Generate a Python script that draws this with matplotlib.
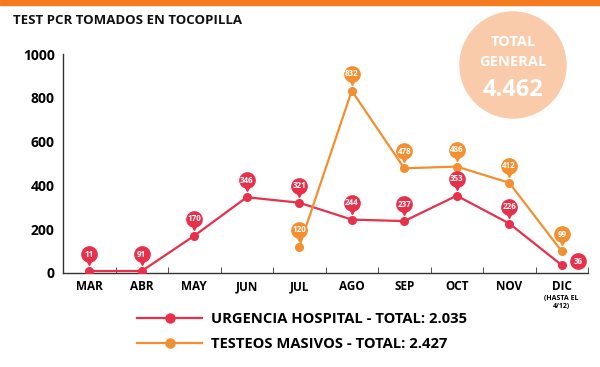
import matplotlib.pyplot as plt
from matplotlib.lines import Line2D
from matplotlib.patches import Ellipse, Rectangle
from matplotlib.transforms import offset_copy

plt.rcParams['font.family'] = ['Open Sans', 'DejaVu Sans']
plt.rcParams['font.weight'] = 'bold'

# ==============================
# DATA
# ==============================
months = ["MAR", "ABR", "MAY", "JUN", "JUL", "AGO", "SEP", "OCT", "NOV", "DIC"]

# urgencia hospital: plotted positions (as drawn) and printed labels
urgencia = [9, 9, 170, 346, 321, 244, 237, 353, 226, 36]
urgencia_labels = ["11", "91", "170", "346", "321", "244", "237", "353", "226", "36"]

# testeos masivos start in JUL
testeos_months = ["JUL", "AGO", "SEP", "OCT", "NOV", "DIC"]
testeos = [120, 832, 478, 486, 412, 99]
testeos_labels = ["120", "832", "478", "486", "412", "99"]

yticks = [0, 200, 400, 600, 800, 1000]

RED = "#E8304B"
ORANGE = "#F29031"
PEACH = "#F9CBAA"
BAR = "#F47B20"

# ==============================
# FIGURE
# ==============================
fig = plt.figure(figsize=(6, 3.67), dpi=100)
ax = fig.add_axes([63 / 600, 1 - 273 / 367, 525 / 600, 219 / 367])

x_all = list(range(len(months)))
x_test = [months.index(m) for m in testeos_months]

ax.plot(x_all, urgencia, color=RED, lw=1.6, marker="o", ms=5.5, zorder=3)
ax.plot(x_test, testeos, color=ORANGE, lw=1.6, marker="o", ms=5.5, zorder=3)


def pin_labels(xs, ys, labels, color, side=None):
    for i, (x, y, lab) in enumerate(zip(xs, ys, labels)):
        if side is not None and i == side:
            tr = offset_copy(ax.transData, fig=fig, x=16, y=4, units="dots")
            ax.plot(x, y, "o", ms=11, color=color, transform=tr, zorder=5, clip_on=False)
            ax.text(x, y, lab, transform=tr, color="white", fontsize=5.8,
                    ha="center", va="center", zorder=6)
            continue
        tr_c = offset_copy(ax.transData, fig=fig, x=0, y=17, units="dots")
        tr_t = offset_copy(ax.transData, fig=fig, x=0, y=9, units="dots")
        ax.plot(x, y, "v", ms=5, color=color, transform=tr_t, zorder=4, clip_on=False)
        ax.plot(x, y, "o", ms=11, color=color, transform=tr_c, zorder=5, clip_on=False)
        ax.text(x, y, lab, transform=tr_c, color="white", fontsize=5.8,
                ha="center", va="center", zorder=6)


pin_labels(x_all, urgencia, urgencia_labels, RED, side=len(months) - 1)
pin_labels(x_test, testeos, testeos_labels, ORANGE)

ax.set_xlim(-0.5, len(months) - 0.5)
ax.set_ylim(0, 1000)
ax.set_yticks(yticks)
ax.set_xticks(x_all)
ax.set_xticklabels(months)
ax.set_xticks([i + 0.5 for i in range(-1, len(months))], minor=True)
ax.tick_params(axis="x", which="major", length=0, pad=5, labelsize=8.5)
ax.tick_params(axis="x", which="minor", direction="in", length=4, color="#333333")
ax.tick_params(axis="y", length=0, pad=6, labelsize=10)
for s in ["top", "right"]:
    ax.spines[s].set_visible(False)
for s in ["left", "bottom"]:
    ax.spines[s].set_color("#333333")
    ax.spines[s].set_linewidth(1.0)

ax.text(len(months) - 1, -0.10, "(HASTA EL\n4/12)", transform=ax.get_xaxis_transform(),
        ha="center", va="top", fontsize=5, linespacing=1.3)

# title and top bar
fig.patches.append(Rectangle((0, 1 - 5 / 367), 1, 5 / 367, transform=fig.transFigure,
                             color=BAR, zorder=0))
fig.text(13 / 600, 1 - 20 / 367, "TEST PCR TOMADOS EN TOCOPILLA", fontsize=9.5,
         ha="left", va="center", color="#111111")

# total bubble
fig.patches.append(Ellipse((513 / 600, 1 - 65 / 367), 106 / 600, 106 / 367,
                           transform=fig.transFigure, color=PEACH, zorder=0))
fig.text(513 / 600, 1 - 42 / 367, "TOTAL", color="white", fontsize=10.5,
         ha="center", va="center")
fig.text(513 / 600, 1 - 62 / 367, "GENERAL", color="white", fontsize=10.5,
         ha="center", va="center")
fig.text(513 / 600, 1 - 90 / 367, "4.462", color="white", fontsize=17,
         ha="center", va="center")

# legend
handles = [
    Line2D([], [], color=RED, lw=1.6, marker="o", ms=6.5),
    Line2D([], [], color=ORANGE, lw=1.6, marker="o", ms=6.5),
]
fig.legend(handles, ["URGENCIA HOSPITAL - TOTAL: 2.035", "TESTEOS MASIVOS - TOTAL: 2.427"],
           loc="upper left", bbox_to_anchor=(130 / 600, 1 - 305 / 367), frameon=False,
           fontsize=10.6, handlelength=4.4, handletextpad=0.6, labelspacing=0.75,
           borderpad=0)

fig.savefig("out.png", dpi=100)
